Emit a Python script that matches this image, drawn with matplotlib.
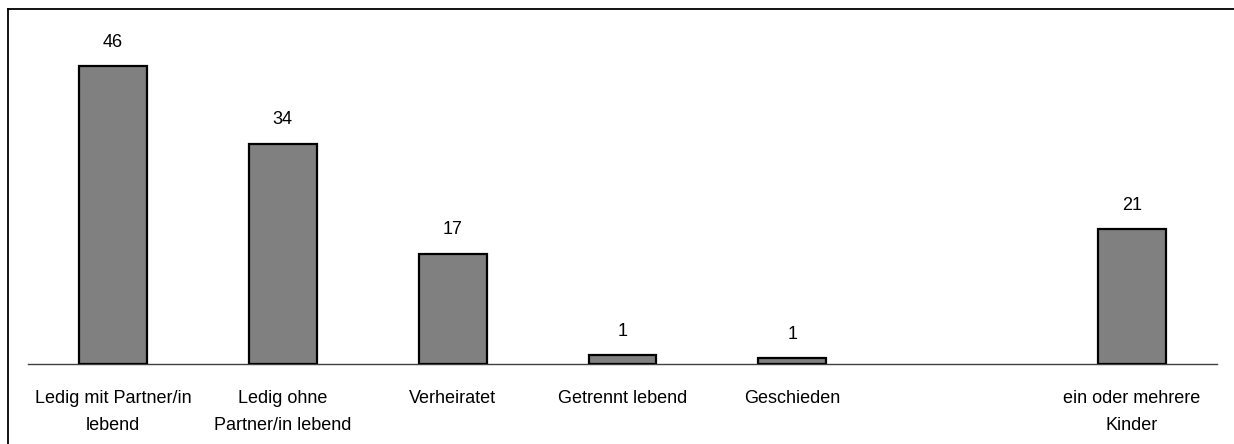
import matplotlib.pyplot as plt
import numpy as np
from matplotlib.lines import Line2D

plt.rcParams['font.family'] = ['Liberation Sans Narrow', 'Liberation Sans', 'DejaVu Sans']

categories = ['Ledig mit Partner/in\nlebend', 'Ledig ohne\nPartner/in lebend', 'Verheiratet',
              'Getrennt lebend', 'Geschieden', '', 'ein oder mehrere\nKinder']
values = [46, 34, 17, 1.3, 0.8, np.nan, 20.8]
labels = ['46', '34', '17', '1', '1', '', '21']

W, H = 1234, 444
fig = plt.figure(figsize=(W / 100, H / 100), dpi=100)
ax = fig.add_axes([28 / W, (H - 363.5) / H, (1217 - 28) / W, (363.5 - 20) / H])

x = np.arange(len(categories))
vals = np.array(values, dtype=float)
mask = ~np.isnan(vals)
ax.bar(x[mask], vals[mask], width=0.4, color='#808080', edgecolor='black', linewidth=1.6, zorder=3)

for xi, v, lab in zip(x, vals, labels):
    if np.isnan(v):
        continue
    ax.annotate(lab, (xi, v), xytext=(0, 17), textcoords='offset points',
                ha='center', va='center', fontsize=13)

ax.set_xlim(-0.5, len(categories) - 0.5)
ax.set_ylim(0, 343.5 / 6.47)
ax.set_xticks(x)
ax.set_xticklabels(categories, fontsize=13, linespacing=1.75)
ax.tick_params(axis='x', length=0, pad=19)
ax.set_yticks([])
for s in ['top', 'right', 'left']:
    ax.spines[s].set_visible(False)
ax.spines['bottom'].set_color('#404040')
ax.spines['bottom'].set_linewidth(1)

# outer frame (top and left edge)
fig.add_artist(Line2D([8 / W, 1], [1 - 9 / H, 1 - 9 / H], color='black', lw=1.3))
fig.add_artist(Line2D([8 / W, 8 / W], [0, 1 - 9 / H], color='black', lw=1.3))

fig.savefig('out.png', dpi=100)
